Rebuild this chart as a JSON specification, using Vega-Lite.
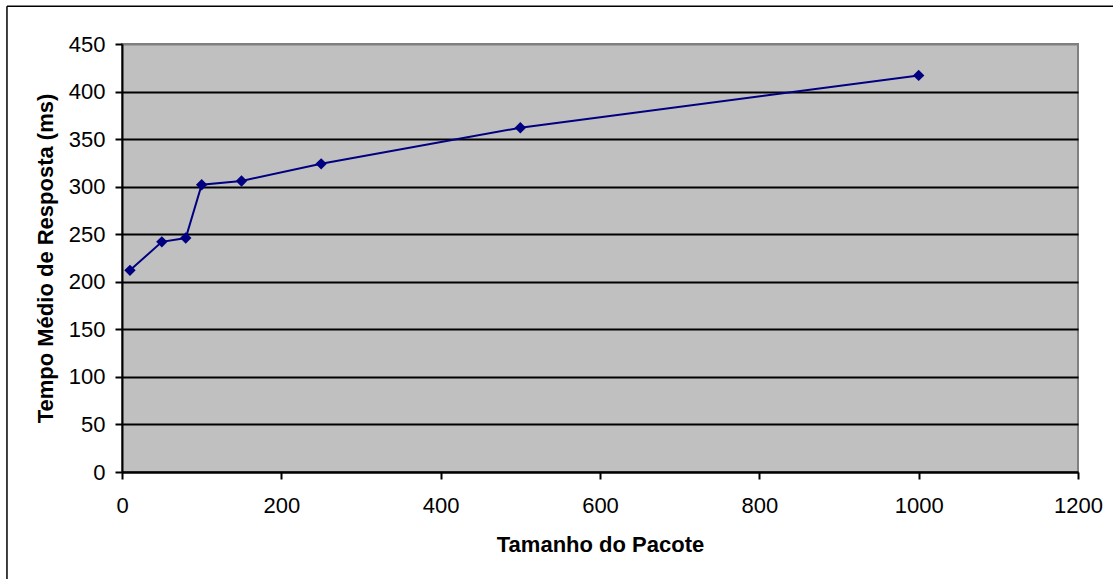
{
  "$schema": "https://vega.github.io/schema/vega-lite/v6.json",
  "width": 956,
  "height": 428,
  "autosize": {"type": "none"},
  "padding": {"left": 122, "top": 44, "right": 35, "bottom": 107},
  "background": "white",
  "config": {
    "font": "Liberation Sans",
    "view": {"fill": "#C0C0C0", "stroke": "#808080", "strokeWidth": 2}
  },
  "datasets": {
    "moldura": [
      {"x0": -144.4, "x1": 3000, "y0": 489.6, "y1": 489.6},
      {"x0": -144.4, "x1": -144.4, "y0": 489.6, "y1": -800}
    ],
    "medidas": [
      {"tamanho": 10, "tempo": 212},
      {"tamanho": 50, "tempo": 242},
      {"tamanho": 80, "tempo": 246},
      {"tamanho": 100, "tempo": 302},
      {"tamanho": 150, "tempo": 306},
      {"tamanho": 250, "tempo": 324},
      {"tamanho": 500, "tempo": 362},
      {"tamanho": 1000, "tempo": 417}
    ]
  },
  "layer": [
    {
      "data": {"name": "moldura"},
      "mark": {"type": "rule", "stroke": "black", "strokeWidth": 1.5, "clip": false},
      "encoding": {
        "x": {"field": "x0", "type": "quantitative", "scale": {"domain": [0, 1200]}},
        "x2": {"field": "x1"},
        "y": {"field": "y0", "type": "quantitative", "scale": {"domain": [0, 450]}},
        "y2": {"field": "y1"}
      }
    },
    {
      "data": {"name": "medidas"},
      "mark": {"type": "line", "color": "#000080", "strokeWidth": 2,
        "point": {"shape": "diamond", "size": 130, "filled": true, "color": "#000080", "opacity": 1}},
      "encoding": {
        "x": {
          "field": "tamanho", "type": "quantitative",
          "title": "Tamanho do Pacote",
          "scale": {"domain": [0, 1200], "nice": false},
          "axis": {
            "values": [0, 200, 400, 600, 800, 1000, 1200],
            "format": "d",
            "grid": false,
            "domainColor": "black", "domainWidth": 2,
            "tickColor": "black", "tickWidth": 2, "tickSize": 7,
            "labelFontSize": 22, "labelColor": "black", "labelPadding": 16,
            "labelFlush": false,
            "titleFontSize": 22, "titleFontWeight": "bold", "titleColor": "black",
            "titlePadding": 18
          }
        },
        "y": {
          "field": "tempo", "type": "quantitative",
          "title": "Tempo Médio de Resposta (ms)",
          "scale": {"domain": [0, 450], "nice": false},
          "axis": {
            "values": [0, 50, 100, 150, 200, 250, 300, 350, 400, 450],
            "format": "d",
            "grid": true,
            "gridColor": {"condition": {"test": "datum.value == 450", "value": "#808080"}, "value": "black"},
            "gridWidth": 2, "gridOpacity": 1,
            "domainColor": "black", "domainWidth": 2,
            "tickColor": "black", "tickWidth": 2, "tickSize": 7,
            "labelFontSize": 22, "labelColor": "black", "labelPadding": 10,
            "labelFlush": false,
            "titleFontSize": 22, "titleFontWeight": "bold", "titleColor": "black",
            "titlePadding": 11
          }
        }
      }
    }
  ]
}
